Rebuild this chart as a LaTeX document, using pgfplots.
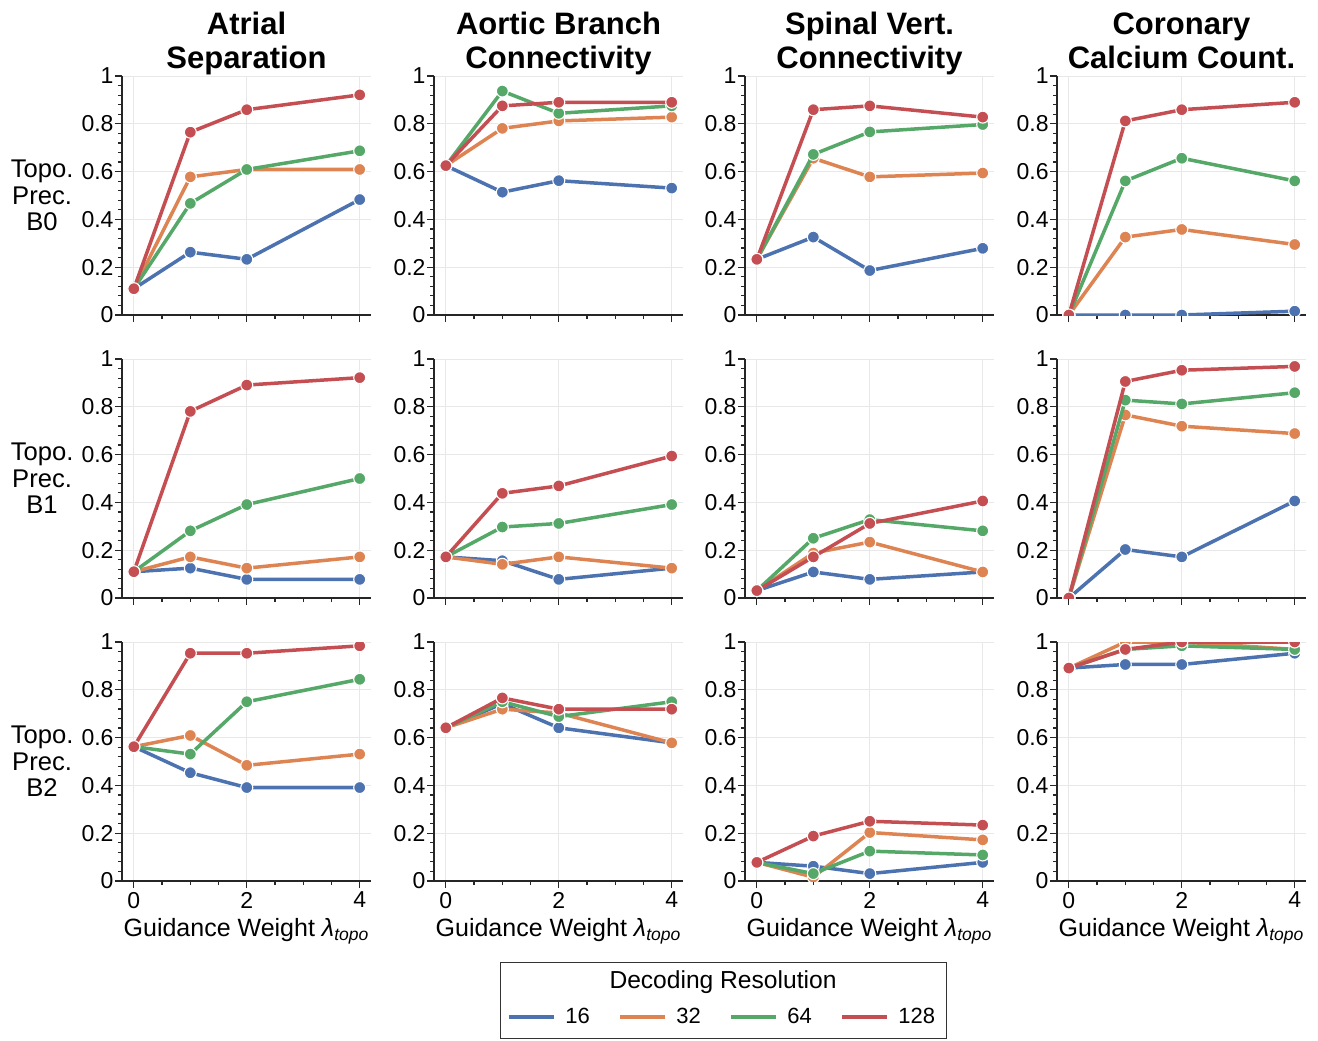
\documentclass[border=0pt]{standalone}
\usepackage{fontspec}
\setmainfont{Liberation Sans}
\usepackage{pgfplots}
\pgfplotsset{compat=1.18}
\definecolor{c16}{HTML}{4C72B0}
\definecolor{c32}{HTML}{DD8452}
\definecolor{c64}{HTML}{55A868}
\definecolor{c128}{HTML}{C44E52}
\pgfplotscreateplotcyclelist{deep}{
 {c16, line width=1.75pt, mark=*, mark size=3pt, mark options={fill=c16, draw=white, line width=0.55pt, solid}},
 {c32, line width=1.75pt, mark=*, mark size=3pt, mark options={fill=c32, draw=white, line width=0.55pt, solid}},
 {c64, line width=1.75pt, mark=*, mark size=3pt, mark options={fill=c64, draw=white, line width=0.55pt, solid}},
 {c128, line width=1.75pt, mark=*, mark size=3pt, mark options={fill=c128, draw=white, line width=0.55pt, solid}},
}
\pgfplotsset{
 panel/.style={
  scale only axis, width=124.5pt, height=119.5pt, anchor=north west,
  xmin=-0.21, xmax=4.2, ymin=0, ymax=1,
  xtick={0,2,4}, minor x tick num=3,
  ytick={0,0.2,0.4,0.6,0.8,1}, minor y tick num=4,
  axis x line*=bottom, axis y line*=left,
  axis line style={-, line width=0.6pt, black!85},
  tick align=outside,
  major tick length=3.5pt, minor tick length=2pt,
  tick style={line width=0.6pt, black!85},
  grid=major, major grid style={line width=0.5pt, gray!18},
  tick label style={font=\fontsize{11.5}{13}\selectfont},
  yticklabel style={xshift=2.8pt},
  xticklabel style={yshift=1.5pt},
  /pgf/number format/assume math mode=true,
  clip marker paths=true,
  cycle list name=deep,
  xticklabels={,,},
  title style={font=\bfseries\fontsize{15.5}{17}\selectfont, align=center, anchor=south, at={(axis description cs:0.5,1)}, inner sep=0pt, yshift=-7.6pt},
  every axis y label/.style={at={(axis description cs:-0.321,0.5)}, anchor=center, align=center, font=\fontsize{12.8}{13.25}\selectfont},
 },
 bottomrow/.style={
  xticklabels={0,2,4},
  xlabel={Guidance Weight \textit{λ}\textsubscript{\textit{topo}}},
  every axis x label/.style={at={(axis description cs:0.5,-0.234)}, anchor=base, font=\fontsize{12.5}{14}\selectfont},
 },
}
\begin{document}
\begin{tikzpicture}
\useasboundingbox (0pt,0pt) rectangle (659pt,-520pt);
% ---------------- Row 1 (B0)
\begin{axis}[panel, at={(61pt,-38pt)}, title={Atrial\\Separation\strut}, ylabel={Topo.\\Prec.\\B0}]
\addplot coordinates {(0,0.11)(1,0.263)(2,0.233)(4,0.483)};
\addplot coordinates {(0,0.11)(1,0.578)(2,0.609)(4,0.609)};
\addplot coordinates {(0,0.11)(1,0.467)(2,0.609)(4,0.687)};
\addplot coordinates {(0,0.11)(1,0.765)(2,0.859)(4,0.921)};
\end{axis}
\begin{axis}[panel, at={(217pt,-38pt)}, title={Aortic Branch\\Connectivity\strut}]
\addplot coordinates {(0,0.625)(1,0.514)(2,0.562)(4,0.531)};
\addplot coordinates {(0,0.625)(1,0.781)(2,0.812)(4,0.828)};
\addplot coordinates {(0,0.625)(1,0.937)(2,0.844)(4,0.875)};
\addplot coordinates {(0,0.625)(1,0.875)(2,0.89)(4,0.89)};
\end{axis}
\begin{axis}[panel, at={(372.5pt,-38pt)}, title={Spinal Vert.\\Connectivity\strut}]
\addplot coordinates {(0,0.233)(1,0.326)(2,0.186)(4,0.279)};
\addplot coordinates {(0,0.233)(1,0.656)(2,0.578)(4,0.594)};
\addplot coordinates {(0,0.233)(1,0.672)(2,0.766)(4,0.797)};
\addplot coordinates {(0,0.233)(1,0.859)(2,0.875)(4,0.828)};
\end{axis}
\begin{axis}[panel, at={(528.5pt,-38pt)}, title={Coronary\\Calcium Count.\strut}]
\addplot coordinates {(0,0)(1,0)(2,0)(4,0.016)};
\addplot coordinates {(0,0)(1,0.326)(2,0.358)(4,0.295)};
\addplot coordinates {(0,0)(1,0.561)(2,0.656)(4,0.561)};
\addplot coordinates {(0,0)(1,0.812)(2,0.859)(4,0.89)};
\end{axis}
% ---------------- Row 2 (B1)
\begin{axis}[panel, at={(61pt,-179.5pt)}, ylabel={Topo.\\Prec.\\B1}]
\addplot coordinates {(0,0.11)(1,0.125)(2,0.078)(4,0.078)};
\addplot coordinates {(0,0.11)(1,0.172)(2,0.125)(4,0.172)};
\addplot coordinates {(0,0.11)(1,0.281)(2,0.391)(4,0.5)};
\addplot coordinates {(0,0.11)(1,0.781)(2,0.891)(4,0.922)};
\end{axis}
\begin{axis}[panel, at={(217pt,-179.5pt)}]
\addplot coordinates {(0,0.172)(1,0.156)(2,0.078)(4,0.125)};
\addplot coordinates {(0,0.172)(1,0.141)(2,0.172)(4,0.125)};
\addplot coordinates {(0,0.172)(1,0.297)(2,0.312)(4,0.391)};
\addplot coordinates {(0,0.172)(1,0.438)(2,0.469)(4,0.594)};
\end{axis}
\begin{axis}[panel, at={(372.5pt,-179.5pt)}]
\addplot coordinates {(0,0.031)(1,0.109)(2,0.078)(4,0.109)};
\addplot coordinates {(0,0.031)(1,0.188)(2,0.234)(4,0.109)};
\addplot coordinates {(0,0.031)(1,0.25)(2,0.328)(4,0.281)};
\addplot coordinates {(0,0.031)(1,0.172)(2,0.312)(4,0.406)};
\end{axis}
\begin{axis}[panel, at={(528.5pt,-179.5pt)}]
\addplot coordinates {(0,0)(1,0.203)(2,0.172)(4,0.406)};
\addplot coordinates {(0,0)(1,0.766)(2,0.719)(4,0.688)};
\addplot coordinates {(0,0)(1,0.828)(2,0.812)(4,0.859)};
\addplot coordinates {(0,0)(1,0.906)(2,0.953)(4,0.969)};
\end{axis}
% ---------------- Row 3 (B2)
\begin{axis}[panel, bottomrow, at={(61pt,-321pt)}, ylabel={Topo.\\Prec.\\B2}]
\addplot coordinates {(0,0.562)(1,0.453)(2,0.391)(4,0.391)};
\addplot coordinates {(0,0.562)(1,0.609)(2,0.484)(4,0.531)};
\addplot coordinates {(0,0.562)(1,0.531)(2,0.75)(4,0.844)};
\addplot coordinates {(0,0.562)(1,0.953)(2,0.953)(4,0.984)};
\end{axis}
\begin{axis}[panel, bottomrow, at={(217pt,-321pt)}]
\addplot coordinates {(0,0.641)(1,0.742)(2,0.641)(4,0.578)};
\addplot coordinates {(0,0.641)(1,0.719)(2,0.703)(4,0.578)};
\addplot coordinates {(0,0.641)(1,0.75)(2,0.688)(4,0.75)};
\addplot coordinates {(0,0.641)(1,0.766)(2,0.719)(4,0.719)};
\end{axis}
\begin{axis}[panel, bottomrow, at={(372.5pt,-321pt)}]
\addplot coordinates {(0,0.078)(1,0.062)(2,0.031)(4,0.078)};
\addplot coordinates {(0,0.078)(1,0.016)(2,0.203)(4,0.172)};
\addplot coordinates {(0,0.078)(1,0.031)(2,0.125)(4,0.109)};
\addplot coordinates {(0,0.078)(1,0.188)(2,0.25)(4,0.234)};
\end{axis}
\begin{axis}[panel, bottomrow, at={(528.5pt,-321pt)},
  legend columns=4,
  legend image code/.code={\draw[#1] (0pt,0pt) -- (22.5pt,0pt);},
  legend style={draw=none, fill=none, at={(axis description cs:-1.3414,-0.569)}, anchor=center,
    font=\fontsize{11}{13}\selectfont,
    /tikz/every odd column/.append style={column sep=3pt},
    /tikz/every even column/.append style={column sep=12pt}}]
\addplot coordinates {(0,0.891)(1,0.906)(2,0.906)(4,0.953)};
\addplot coordinates {(0,0.891)(1,1)(2,1)(4,0.969)};
\addplot coordinates {(0,0.891)(1,0.969)(2,0.984)(4,0.969)};
\addplot coordinates {(0,0.891)(1,0.969)(2,1)(4,1)};
\legend{16,32,64,128}
\end{axis}
\node[font=\fontsize{12.3}{14}\selectfont] at (361.5pt,-491pt) {Decoding Resolution};
\draw[line width=0.5pt, black!80] (250pt,-481pt) rectangle (473pt,-519pt);
\end{tikzpicture}
\end{document}
